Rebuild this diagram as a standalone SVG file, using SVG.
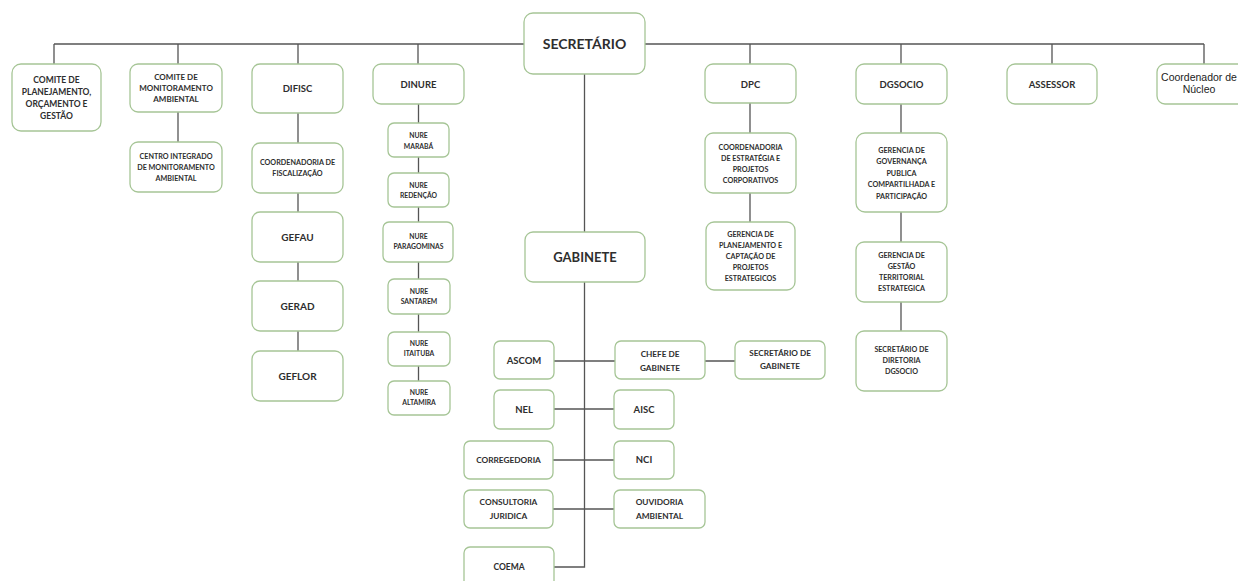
<svg xmlns="http://www.w3.org/2000/svg" width="1238" height="581" viewBox="0 0 1238 581">
<style>
.b{fill:#fff;stroke:#a6c596;stroke-width:1.3}
.t{font-family:Lato,"Open Sans","Liberation Sans",sans-serif;font-weight:bold;fill:#2e2e2e;text-anchor:middle}
.c{fill:none;stroke:#555;stroke-width:1.3}
</style>
<rect width="1238" height="581" fill="#fff"/>
<g id="connectors" class="c">
<path d="M54 44H1204M54 44V64M178 44V64M298 44V64M418 44V64M750 44V64M901 44V64M1052 44V64M1204 44V64"/>
<path d="M178 112V142"/>
<path d="M298 113V143M298 193V212M298 262V281M298 331V351"/>
<path d="M418.5 104V123M418.5 157V173M418.5 207V222M418.5 262V279M418.5 314V332M418.5 366V381"/>
<path d="M584.5 74V232M584.5 282V567H554"/>
<path d="M750 103V133M750 193V222"/>
<path d="M901 104V133M901 212V242M901 302V331"/>
<path d="M554 361H615M705 361H735M554 409H614M553 460H614M553 509H614"/>
</g>
<g id="secretario"><rect class="b" x="524" y="13" width="121" height="61" rx="9"/><text class="t" x="584.5" y="49" font-size="14">SECRETÁRIO</text></g>
<g id="comite-plan"><rect class="b" x="12" y="64" width="89" height="67" rx="9"/><text class="t" font-size="8.5"><tspan x="56.5" y="83">COMITE DE</tspan><tspan x="56.5" y="95">PLANEJAMENTO,</tspan><tspan x="56.5" y="107">ORÇAMENTO E</tspan><tspan x="56.5" y="119">GESTÃO</tspan></text></g>
<g id="comite-mon"><rect class="b" x="130" y="64" width="92" height="48" rx="8"/><text class="t" font-size="8"><tspan x="176" y="80">COMITE DE</tspan><tspan x="176" y="91">MONITORAMENTO</tspan><tspan x="176" y="102">AMBIENTAL</tspan></text></g>
<g id="centro"><rect class="b" x="130" y="142" width="92" height="50" rx="8"/><text class="t" font-size="7.2"><tspan x="176" y="159">CENTRO INTEGRADO</tspan><tspan x="176" y="170">DE MONITORAMENTO</tspan><tspan x="176" y="181">AMBIENTAL</tspan></text></g>
<g id="difisc"><rect class="b" x="252" y="64" width="91" height="49" rx="8"/><text class="t" x="297.5" y="92" font-size="9.5">DIFISC</text></g>
<g id="coord-fisc"><rect class="b" x="252" y="143" width="91" height="50" rx="8"/><text class="t" font-size="7.2"><tspan x="297.5" y="165">COORDENADORIA DE</tspan><tspan x="297.5" y="176">FISCALIZAÇÃO</tspan></text></g>
<g id="gefau"><rect class="b" x="252" y="212" width="91" height="50" rx="8"/><text class="t" x="297.5" y="241" font-size="10">GEFAU</text></g>
<g id="gerad"><rect class="b" x="252" y="281" width="91" height="50" rx="8"/><text class="t" x="297.5" y="310" font-size="10">GERAD</text></g>
<g id="geflor"><rect class="b" x="252" y="351" width="91" height="50" rx="8"/><text class="t" x="297.5" y="380" font-size="10">GEFLOR</text></g>
<g id="dinure"><rect class="b" x="373" y="64" width="91" height="40" rx="8"/><text class="t" x="418.5" y="88" font-size="9.5">DINURE</text></g>
<g id="nure-maraba"><rect class="b" x="388" y="123" width="61" height="34" rx="6"/><text class="t" font-size="6.8"><tspan x="418.5" y="138">NURE</tspan><tspan x="418.5" y="149">MARABÁ</tspan></text></g>
<g id="nure-redencao"><rect class="b" x="388" y="173" width="61" height="34" rx="6"/><text class="t" font-size="6.8"><tspan x="418.5" y="188">NURE</tspan><tspan x="418.5" y="198">REDENÇÃO</tspan></text></g>
<g id="nure-paragominas"><rect class="b" x="383" y="222" width="70" height="40" rx="6"/><text class="t" font-size="6.8"><tspan x="418.5" y="239">NURE</tspan><tspan x="418.5" y="249">PARAGOMINAS</tspan></text></g>
<g id="nure-santarem"><rect class="b" x="388" y="279" width="62" height="35" rx="6"/><text class="t" font-size="6.8"><tspan x="419" y="294">NURE</tspan><tspan x="419" y="304">SANTAREM</tspan></text></g>
<g id="nure-itaituba"><rect class="b" x="388" y="332" width="62" height="34" rx="6"/><text class="t" font-size="6.8"><tspan x="419" y="346">NURE</tspan><tspan x="419" y="356">ITAITUBA</tspan></text></g>
<g id="nure-altamira"><rect class="b" x="388" y="381" width="62" height="34" rx="6"/><text class="t" font-size="6.8"><tspan x="419" y="395">NURE</tspan><tspan x="419" y="405">ALTAMIRA</tspan></text></g>
<g id="dpc"><rect class="b" x="705" y="64" width="91" height="39" rx="8"/><text class="t" x="750.5" y="88" font-size="9.5">DPC</text></g>
<g id="coord-estrategia"><rect class="b" x="705" y="133" width="91" height="60" rx="8"/><text class="t" font-size="7.2"><tspan x="750.5" y="150">COORDENADORIA</tspan><tspan x="750.5" y="161">DE ESTRATÉGIA E</tspan><tspan x="750.5" y="172">PROJETOS</tspan><tspan x="750.5" y="183">CORPORATIVOS</tspan></text></g>
<g id="ger-planejamento"><rect class="b" x="706" y="222" width="89" height="68" rx="8"/><text class="t" font-size="7.2"><tspan x="750.5" y="237">GERENCIA DE</tspan><tspan x="750.5" y="248">PLANEJAMENTO E</tspan><tspan x="750.5" y="259">CAPTAÇÃO  DE</tspan><tspan x="750.5" y="270">PROJETOS</tspan><tspan x="750.5" y="281">ESTRATEGICOS</tspan></text></g>
<g id="dgsocio"><rect class="b" x="856" y="64" width="91" height="40" rx="8"/><text class="t" x="901.5" y="88" font-size="9.5">DGSOCIO</text></g>
<g id="ger-governanca"><rect class="b" x="856" y="133" width="91" height="79" rx="9"/><text class="t" font-size="7.2"><tspan x="901.5" y="153">GERENCIA DE</tspan><tspan x="901.5" y="164">GOVERNANÇA</tspan><tspan x="901.5" y="176">PUBLICA</tspan><tspan x="901.5" y="187">COMPARTILHADA  E</tspan><tspan x="901.5" y="199">PARTICIPAÇÃO</tspan></text></g>
<g id="ger-gestao"><rect class="b" x="856" y="242" width="91" height="60" rx="8"/><text class="t" font-size="7.2"><tspan x="901.5" y="258">GERENCIA DE</tspan><tspan x="901.5" y="269">GESTÃO</tspan><tspan x="901.5" y="280">TERRITORIAL</tspan><tspan x="901.5" y="291">ESTRATEGICA</tspan></text></g>
<g id="sec-diretoria"><rect class="b" x="856" y="331" width="91" height="60" rx="8"/><text class="t" font-size="7.2"><tspan x="901.5" y="352">SECRETÁRIO DE</tspan><tspan x="901.5" y="363">DIRETORIA</tspan><tspan x="901.5" y="374">DGSOCIO</tspan></text></g>
<g id="assessor"><rect class="b" x="1007" y="64" width="90" height="40" rx="8"/><text class="t" x="1052" y="88" font-size="9.5">ASSESSOR</text></g>
<g id="coordenador"><rect class="b" x="1157" y="64" width="100" height="40" rx="8"/><text font-family="'Liberation Sans',Arial,sans-serif" font-size="10.5" fill="#222" text-anchor="middle"><tspan x="1199" y="81">Coordenador de</tspan><tspan x="1199" y="93">Núcleo</tspan></text></g>
<g id="gabinete"><rect class="b" x="525" y="232" width="120" height="50" rx="8"/><text class="t" x="585" y="262" font-size="13">GABINETE</text></g>
<g id="ascom"><rect class="b" x="494" y="341" width="60" height="38" rx="6"/><text class="t" x="524" y="364" font-size="9.5">ASCOM</text></g>
<g id="chefe"><rect class="b" x="615" y="341" width="90" height="38" rx="6"/><text class="t" font-size="8.2"><tspan x="660" y="357">CHEFE DE</tspan><tspan x="660" y="371">GABINETE</tspan></text></g>
<g id="sec-gabinete"><rect class="b" x="735" y="341" width="90" height="38" rx="6"/><text class="t" font-size="8.2"><tspan x="780" y="356">SECRETÁRIO DE</tspan><tspan x="780" y="369">GABINETE</tspan></text></g>
<g id="nel"><rect class="b" x="494" y="390" width="60" height="39" rx="6"/><text class="t" x="524" y="413" font-size="9.5">NEL</text></g>
<g id="aisc"><rect class="b" x="614" y="390" width="60" height="39" rx="6"/><text class="t" x="644" y="413" font-size="9.5">AISC</text></g>
<g id="corregedoria"><rect class="b" x="464" y="441" width="89" height="38" rx="6"/><text class="t" x="508.5" y="463" font-size="8.3">CORREGEDORIA</text></g>
<g id="nci"><rect class="b" x="614" y="441" width="60" height="38" rx="6"/><text class="t" x="644" y="463" font-size="9.5">NCI</text></g>
<g id="consultoria"><rect class="b" x="464" y="490" width="89" height="38" rx="6"/><text class="t" font-size="8.3"><tspan x="508.5" y="505">CONSULTORIA</tspan><tspan x="508.5" y="519">JURIDICA</tspan></text></g>
<g id="ouvidoria"><rect class="b" x="614" y="490" width="91" height="38" rx="6"/><text class="t" font-size="8.3"><tspan x="659.5" y="505">OUVIDORIA</tspan><tspan x="659.5" y="519">AMBIENTAL</tspan></text></g>
<g id="coema"><rect class="b" x="464" y="547" width="90" height="40" rx="6"/><text class="t" x="509" y="570" font-size="8.5">COEMA</text></g>
</svg>
